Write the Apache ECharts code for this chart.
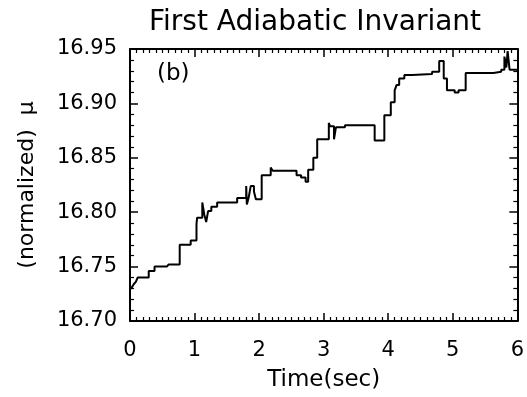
<!DOCTYPE html>
<html>
<head>
<meta charset="utf-8">
<script src="https://cdn.jsdelivr.net/npm/echarts@6/dist/echarts.min.js"></script>
<style>
  html, body { margin: 0; padding: 0; background: #fff; }
  #chart { width: 527px; height: 397px; }
</style>
</head>
<body>
<div id="chart"></div>
<script>
// Time (s) at which each level of the invariant begins
var timeSec = [
  0.00, 0.03, 0.06, 0.09, 0.12, 0.29, 0.38, 0.57, 0.60, 0.77, 0.94,
  1.03, 1.04, 1.12, 1.15, 1.18, 1.21, 1.26, 1.35, 1.66, 1.80, 1.81,
  1.84, 1.87, 1.92, 1.95, 2.04, 2.18, 2.21, 2.58, 2.65, 2.72, 2.76,
  2.84, 2.90, 3.08, 3.10, 3.16, 3.19, 3.33, 3.79, 3.94, 4.04, 4.10,
  4.13, 4.17, 4.25, 4.37, 4.68, 4.79, 4.86, 4.91, 5.03, 5.09, 5.20,
  5.63, 5.75, 5.80, 5.83, 5.85, 5.88, 6.00
];
// Normalized first adiabatic invariant mu at each level
var muValue = [
  16.729, 16.731, 16.734, 16.736, 16.740, 16.746, 16.750, 16.751, 16.752, 16.770, 16.774,
  16.789, 16.795, 16.809, 16.798, 16.791, 16.801, 16.805, 16.809, 16.813, 16.824, 16.807,
  16.814, 16.824, 16.819, 16.812, 16.834, 16.841, 16.838, 16.834, 16.832, 16.828, 16.839,
  16.850, 16.867, 16.882, 16.879, 16.867, 16.878, 16.880, 16.866, 16.889, 16.901, 16.912,
  16.917, 16.923, 16.926, 16.927, 16.929, 16.939, 16.923, 16.912, 16.910, 16.912, 16.928,
  16.929, 16.931, 16.943, 16.933, 16.948, 16.931, 16.931
];
var xTicks = [0, 1, 2, 3, 4, 5, 6];
var yTicks = ['16.70', '16.75', '16.80', '16.85', '16.90', '16.95'];

var points = timeSec.map(function (t, i) { return [t, muValue[i]]; });

var FONT = 'DejaVu Sans';
var INK = '#000';

function frameAxis(pos, isX, showLabels) {
  return {
    type: 'value',
    position: pos,
    min: isX ? xTicks[0] : +yTicks[0],
    max: isX ? xTicks[xTicks.length - 1] : +yTicks[yTicks.length - 1],
    interval: isX ? 1 : 0.05,
    splitLine: { show: false },
    axisLine: { show: true, onZero: false, lineStyle: { color: INK, width: 2 } },
    axisTick: { show: true, inside: true, length: 8, lineStyle: { color: INK, width: 1.5 } },
    minorTick: { show: true, splitNumber: isX ? 10 : 5, length: 4, lineStyle: { color: INK, width: 1.2 } },
    axisLabel: {
      show: showLabels,
      color: INK,
      fontFamily: FONT,
      fontSize: 21,
      margin: isX ? 19 : 13,
      formatter: function (v) {
        return isX ? String(Math.round(v)) : v.toFixed(2);
      }
    }
  };
}

var xBottom = frameAxis('bottom', true, true);
xBottom.name = 'Time(sec)';
xBottom.nameLocation = 'middle';
xBottom.nameGap = 48;
xBottom.nameTextStyle = { color: INK, fontFamily: FONT, fontSize: 23 };

var yLeft = frameAxis('left', false, true);
yLeft.name = '(normalized)  \u03bc';
yLeft.nameLocation = 'middle';
yLeft.nameRotate = 90;
yLeft.nameGap = 92;
yLeft.nameTextStyle = { color: INK, fontFamily: FONT, fontSize: 22 };

var chart = echarts.init(document.getElementById('chart'), null, { renderer: 'canvas' });
chart.setOption({
  backgroundColor: '#fff',
  animation: false,
  title: {
    text: 'First Adiabatic Invariant',
    left: 144,
    top: 4,
    textStyle: { color: INK, fontFamily: FONT, fontSize: 28, fontWeight: 'normal' }
  },
  grid: { left: 130, right: 6, top: 49, bottom: 75 },
  xAxis: [xBottom, frameAxis('top', true, false)],
  yAxis: [yLeft, frameAxis('right', false, false)],
  graphic: [{
    type: 'text',
    left: 157,
    top: 63,
    style: { text: '(b)', fill: INK, font: '23px "DejaVu Sans"' }
  }],
  series: [{
    type: 'line',
    xAxisIndex: 0,
    yAxisIndex: 0,
    step: 'end',
    data: points,
    showSymbol: false,
    lineStyle: { color: INK, width: 2 }
  }]
});
</script>
</body>
</html>
